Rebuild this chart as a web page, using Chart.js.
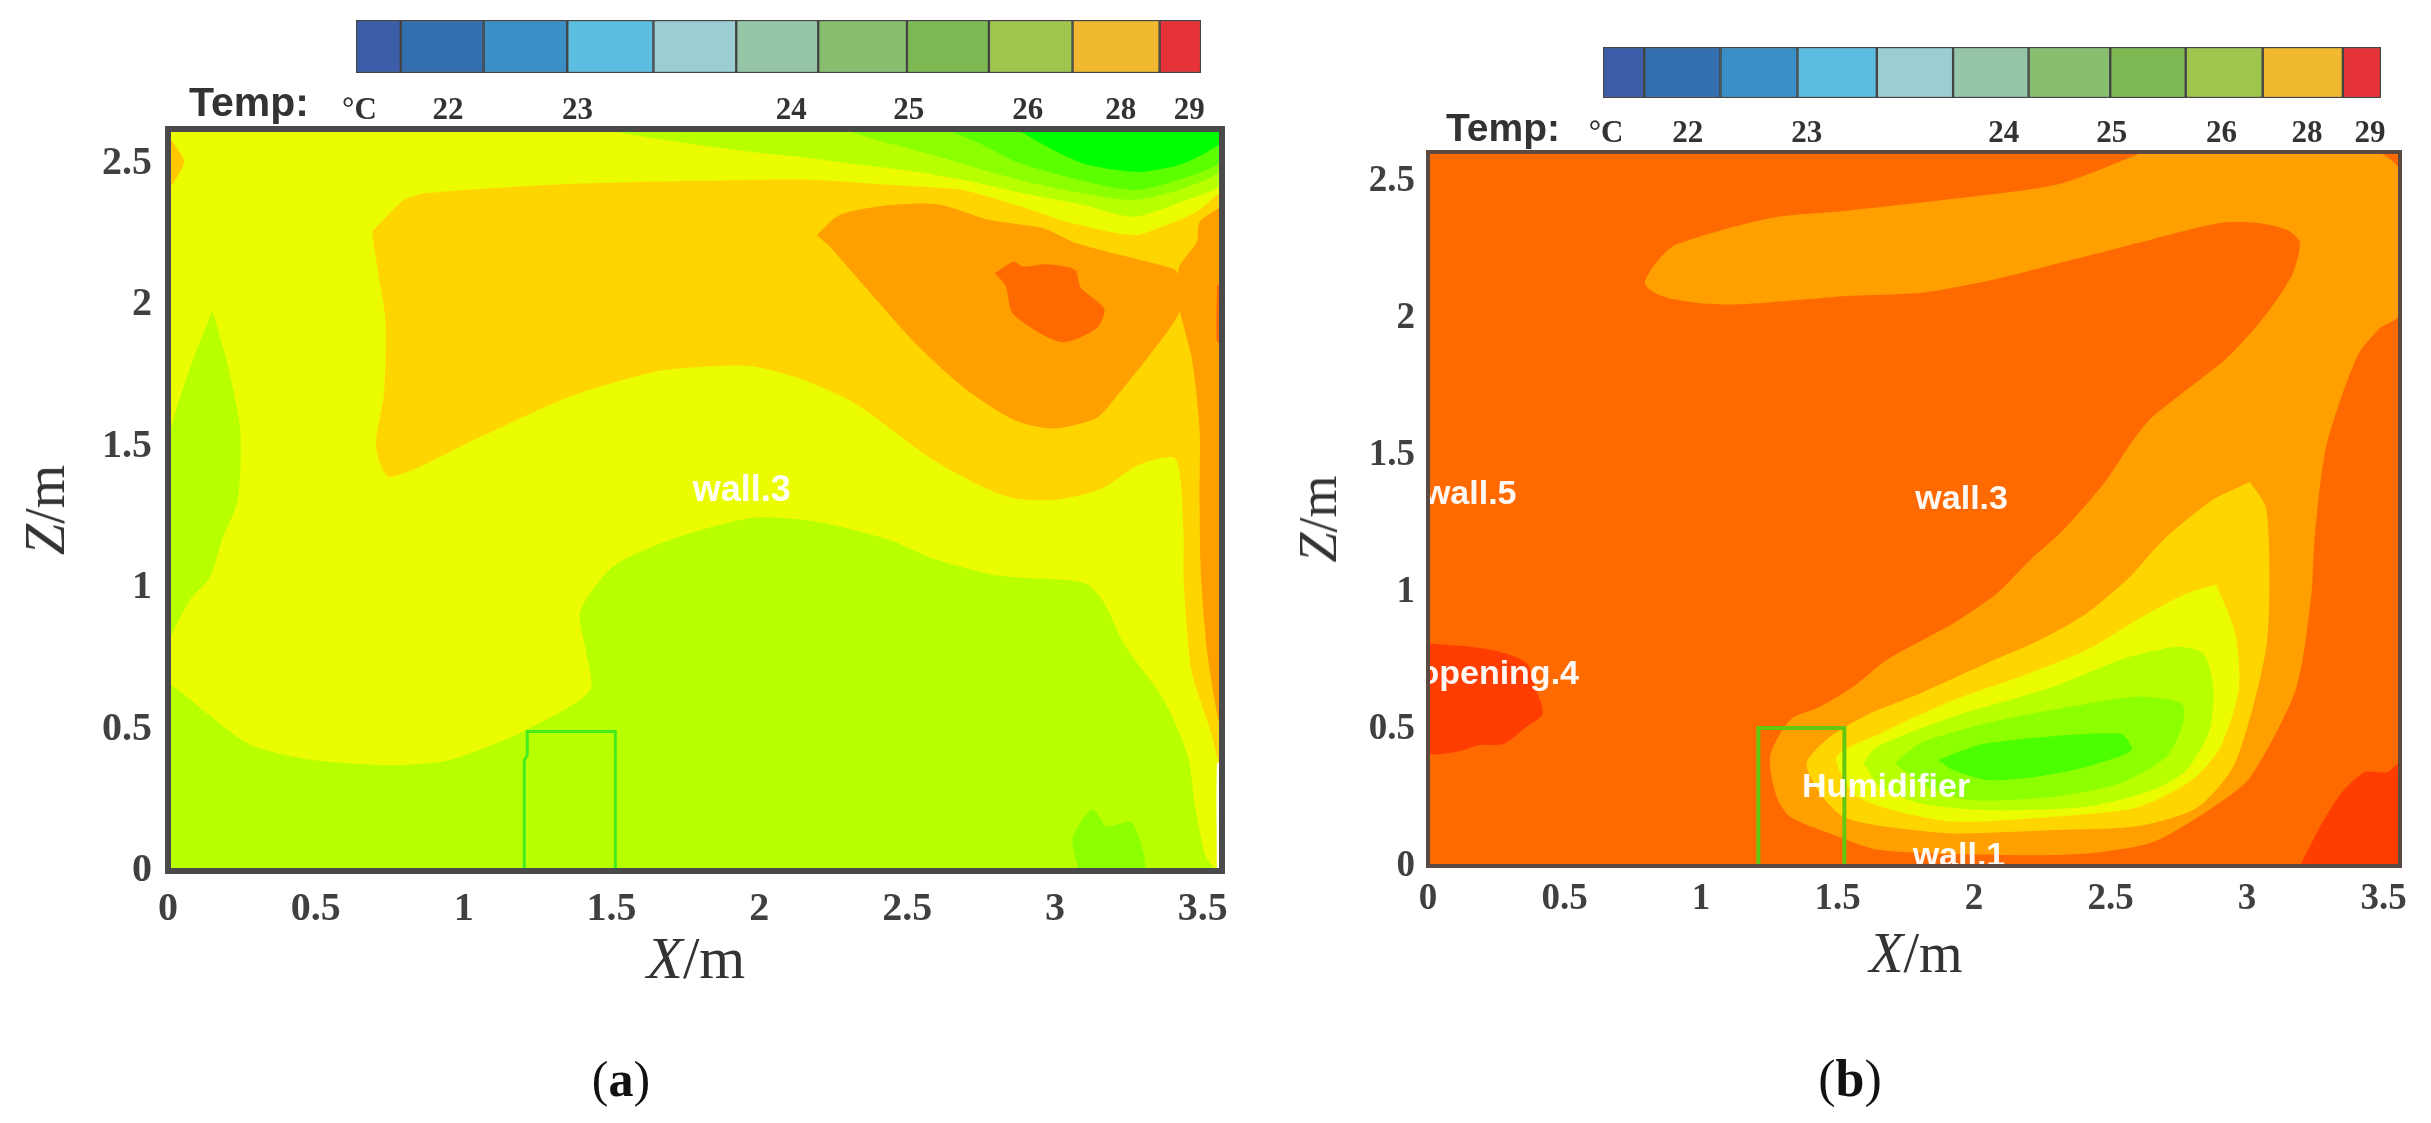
<!DOCTYPE html>
<html>
<head>
<meta charset="utf-8">
<title>Temperature contours</title>
<script src="https://cdn.jsdelivr.net/npm/chart.js@4"></script>
<style>
  body { margin: 0; background: #fff; width: 2431px; height: 1123px; overflow: hidden; position: relative; }
  canvas { position: absolute; filter: blur(0.6px); }
  .lbl { position: absolute; color: #333; font-family: "Liberation Serif", serif; white-space: nowrap; transform: translate(-50%, -50%); line-height: 1; }
  .temp { font-family: "Liberation Sans", sans-serif; font-weight: bold; color: #333; }
  .rot { transform: translate(-50%, -50%) rotate(-90deg); }
</style>
</head>
<body>
<canvas id="keyA" width="925" height="113" style="left:316px;top:20px"></canvas>
<canvas id="keyB" width="858" height="111" style="left:1563px;top:47px"></canvas>
<canvas id="plotA" width="1180" height="811" style="left:60px;top:120px"></canvas>
<canvas id="plotB" width="1100" height="800" style="left:1320px;top:126px"></canvas>

<div class="lbl temp" style="left:249px;top:102px;font-size:41px">Temp:</div>
<div class="lbl temp" style="left:1503px;top:127px;font-size:39px">Temp:</div>
<div class="lbl" style="left:696px;top:958px;font-size:59px"><i>X</i>/m</div>
<div class="lbl" style="left:1916px;top:953px;font-size:56px"><i>X</i>/m</div>
<div class="lbl rot" style="left:45px;top:510px;font-size:56px"><i>Z</i>/m</div>
<div class="lbl rot" style="left:1318px;top:519px;font-size:54px"><i>Z</i>/m</div>
<div class="lbl" style="left:621px;top:1079px;font-size:50px;color:#111">(<b>a</b>)</div>
<div class="lbl" style="left:1850px;top:1079px;font-size:52px;color:#111">(<b>b</b>)</div>

<script>
// colour key
const keySpans = [5.3, 9.8, 9.9, 10.2, 9.8, 9.7, 10.5, 9.7, 9.9, 10.3, 4.9];
const keyColors = ['#3C5DA8', '#336FAF', '#3A8FC6', '#5BBDE0', '#9BCDD2', '#96C6A8', '#87BF6E', '#7DB952', '#9FC54E', '#F0B92F', '#E43236'];
const keyTickPos = [0.4, 10.9, 26.2, 51.5, 65.4, 79.5, 90.5, 98.6];
const keyTickLabels = ['°C', '22', '23', '24', '25', '26', '28', '29'];

// contour bands, [x, z] in metres
const C_YELLOW = '#EBFB00', C_LIME = '#B8FF00', C_GREEN1 = '#8CFF00', C_GREEN2 = '#5CFF00', C_GREEN3 = '#00FF00', C_BRIGHT = '#4BFF00';
const C_AMBER = '#FFD500', C_ORANGE = '#FFA000', C_DEEP = '#FF6A00', C_RED = '#FF3D00';

// panel (a)
const aBase = [[0, 0], [0, 2.622], [3.565, 2.622], [3.565, 0]];
const aLime = [[0, 0], [0, .65], [.13, .558], [.276, .447], [.477, .394], [.744, .374], [.932, .387], [1.066, .433], [1.213, .499], [1.427, .637], [1.414, .775], [1.395, .919], [1.507, 1.077], [1.695, 1.169], [1.976, 1.248], [2.19, 1.235], [2.444, 1.169], [2.59, 1.103], [2.806, 1.044], [3.10, 1.018], [3.167, .946], [3.234, .801], [3.368, .604], [3.449, .407], [3.475, .223], [3.51, .05], [3.54, 0]];
const aLimeStrip = [[.15, 1.98], [.088, 1.816], [.027, 1.627], [0, 1.5], [0, .8], [.008, .828], [.075, .959], [.142, 1.038], [.182, 1.169], [.236, 1.311], [.244, 1.564], [.195, 1.816]];
const aPatch = [[3.08, 0], [3.06, .118], [3.127, .217], [3.175, .158], [3.26, .171], [3.3, 0]];
const aAmber = [[.69, 2.258], [.798, 2.371], [.878, 2.396], [1.36, 2.428], [1.968, 2.442], [2.194, 2.442], [2.453, 2.424], [2.69, 2.406], [2.87, 2.353], [3.04, 2.294], [3.265, 2.247], [3.378, 2.283], [3.48, 2.33], [3.565, 2.39], [3.565, .35], [3.529, .486], [3.462, .709], [3.435, 1.038], [3.435, 1.185], [3.408, 1.456], [3.288, 1.437], [3.154, 1.349], [2.993, 1.311], [2.833, 1.324], [2.592, 1.45], [2.324, 1.652], [2.137, 1.74], [1.976, 1.784], [1.842, 1.784], [1.655, 1.766], [1.36, 1.677], [1.039, 1.526], [.75, 1.393], [.704, 1.5], [.731, 1.69], [.736, 1.942], [.712, 2.106]];
const aCorner = [[0, 2.6], [.054, 2.51], [.035, 2.46], [0, 2.415]];
const aOrange = [[2.194, 2.247], [2.272, 2.318], [2.442, 2.353], [2.605, 2.356], [2.78, 2.30], [2.96, 2.271], [3.073, 2.218], [3.378, 2.135], [3.412, 2.118], [3.422, 1.98], [3.315, 1.816], [3.208, 1.677], [3.14, 1.601], [2.993, 1.564], [2.859, 1.595], [2.699, 1.702], [2.538, 1.854], [2.352, 2.071], [2.244, 2.2]];
const aOrangeStrip = [[3.565, 2.35], [3.49, 2.294], [3.48, 2.224], [3.423, 2.141], [3.412, 2.07], [3.422, 1.98], [3.462, 1.816], [3.489, 1.564], [3.489, 1.311], [3.494, 1.038], [3.515, .775], [3.542, .591], [3.565, .49]];
const aDeep = [[2.797, 2.112], [2.859, 2.153], [2.893, 2.136], [2.972, 2.144], [3.068, 2.124], [3.087, 2.062], [3.167, 1.986], [3.14, 1.917], [3.02, 1.869], [2.859, 1.967], [2.833, 2.068]];
const aEdgeDeep = [[3.548, 2.07], [3.565, 2.07], [3.565, 1.87], [3.548, 1.87]];
const aEdgeWhite = [[3.548, 0], [3.565, 0], [3.565, .38], [3.548, .38]];
const aTopLime = [[1.45, 2.622], [1.7, 2.58], [1.968, 2.542], [2.137, 2.524], [2.306, 2.5], [2.532, 2.471], [2.70, 2.44], [2.87, 2.40], [3.096, 2.353], [3.265, 2.312], [3.412, 2.359], [3.565, 2.43], [3.565, 2.622]];
const aTopGreen1 = [[2.28, 2.622], [2.419, 2.577], [2.588, 2.53], [2.758, 2.477], [2.927, 2.43], [3.096, 2.394], [3.265, 2.371], [3.434, 2.412], [3.565, 2.48], [3.565, 2.622]];
const aTopGreen2 = [[2.63, 2.622], [2.758, 2.565], [2.87, 2.506], [3.04, 2.453], [3.265, 2.406], [3.434, 2.448], [3.565, 2.51], [3.565, 2.622]];
const aTopGreen3 = [[2.87, 2.622], [2.983, 2.554], [3.096, 2.5], [3.209, 2.477], [3.299, 2.471], [3.434, 2.5], [3.565, 2.575], [3.565, 2.622]];
const aBoxX = [1.205, 1.205, 1.215, 1.215, 1.513, 1.513];
const aBoxZ = [0, .39, .41, .493, .493, 0];

// panel (b)
const bBase = [[0, 0], [0, 2.606], [3.56, 2.606], [3.56, 0]];
const bOrange = [[2.622, 2.606], [2.316, 2.49], [2.01, 2.445], [1.537, 2.392], [1.259, 2.366], [.911, 2.269], [.842, 2.21], [.794, 2.125], [.856, 2.08], [.981, 2.056], [1.148, 2.05], [1.537, 2.08], [1.815, 2.093], [2.094, 2.145], [2.372, 2.216], [2.65, 2.287], [2.9, 2.347], [3.04, 2.347], [3.15, 2.32], [3.193, 2.275], [3.165, 2.158], [3.07, 2.014], [2.93, 1.858], [2.65, 1.636], [2.567, 1.532], [2.485, 1.409], [2.327, 1.226], [2.205, 1.117], [2.083, .995], [1.924, .886], [1.68, .752], [1.558, .655], [1.436, .581], [1.326, .533], [1.253, .399], [1.277, .253], [1.326, .18], [1.473, .119], [1.656, .058], [2.107, .04], [2.412, .046], [2.656, .088], [2.873, .213], [3.01, .322], [3.179, .647], [3.235, .986], [3.248, 1.206], [3.29, 1.532], [3.402, 1.858], [3.485, 1.962], [3.56, 2.014], [3.56, 2.536], [3.47, 2.606]];
const bAmber = [[3.01, 1.402], [2.873, 1.336], [2.693, 1.19], [2.571, 1.056], [2.412, .922], [2.241, .825], [2.046, .74], [1.802, .63], [1.619, .557], [1.473, .472], [1.387, .375], [1.436, .265], [1.521, .18], [1.68, .143], [1.924, .119], [2.29, .131], [2.595, .145], [2.817, .213], [2.956, .376], [3.068, .783], [3.082, 1.054], [3.068, 1.31]];
const bYellow = [[2.887, 1.027], [2.956, .851], [2.97, .647], [2.9, .43], [2.79, .308], [2.595, .213], [2.29, .18], [1.924, .162], [1.68, .21], [1.558, .265], [1.497, .399], [1.656, .484], [1.924, .606], [2.168, .691], [2.412, .788], [2.595, .898], [2.778, .995]];
const bLime = [[1.595, .375], [1.643, .435], [1.924, .545], [2.29, .654], [2.534, .752], [2.741, .8], [2.839, .776], [2.876, .654], [2.863, .496], [2.778, .35], [2.656, .277], [2.412, .216], [2.046, .204], [1.802, .228], [1.656, .29]];
const bGreen = [[1.71, .375], [1.802, .448], [2.046, .521], [2.351, .581], [2.595, .618], [2.76, .594], [2.766, .521], [2.705, .399], [2.534, .302], [2.29, .253], [1.985, .241], [1.826, .29]];
const bBright = [[1.869, .387], [2.046, .448], [2.534, .484], [2.577, .423], [2.412, .362], [2.229, .326], [2.046, .314], [1.924, .35]];
const bRedLeft = [[0, .813], [.154, .80], [.264, .782], [.362, .74], [.392, .654], [.42, .557], [.362, .509], [.276, .445], [.19, .442], [.105, .417], [0, .417]];
const bRedRight = [[3.193, 0], [3.276, .159], [3.346, .267], [3.43, .342], [3.513, .342], [3.56, .376], [3.56, 0]];
const bBoxX = [1.21, 1.21, 1.525, 1.525];
const bBoxZ = [0, .504, .504, 0];

// labels inside the plots, x is the left end of the text
const aNoteText = ['wall.3'], aNoteX = [1.775], aNoteZ = [1.343];
const bNoteText = ['wall.3', 'wall.5', 'opening.4', 'Humidifier', 'wall.1'];
const bNoteX = [1.785, -.015, -.035, 1.37, 1.775];
const bNoteZ = [1.336, 1.356, .697, .285, .033];

const shape = (pts, color, tension) => ({
    data: pts.concat([pts[0]]).map(p => ({ x: p[0], y: p[1] })),
    showLine: true, fill: 'shape', backgroundColor: color, borderColor: color,
    borderWidth: 0, pointRadius: 0, tension
});

// first dataset is painted last, so flip the paint order
const makePlot = (id, layers, box, maxX, maxZ, notes, padding, frame, ticks) => {
    const boxSet = {
        data: box.x.map((v, i) => ({ x: v, y: box.z[i] })),
        showLine: true, fill: false, borderColor: box.color, borderWidth: box.width, pointRadius: 0
    };
    const overlay = {
        id: 'overlay',
        afterDatasetsDraw(chart) {
            const { ctx, chartArea: a, scales } = chart;
            ctx.save();
            ctx.beginPath();
            ctx.rect(a.left, a.top, a.width, a.height);
            ctx.clip();
            ctx.fillStyle = 'rgba(255,255,255,0.96)';
            ctx.textBaseline = 'middle';
            ctx.font = 'bold ' + notes.size + 'px "Liberation Sans"';
            notes.text.forEach((t, i) => {
                ctx.fillText(t, scales.x.getPixelForValue(notes.x[i]), scales.y.getPixelForValue(notes.z[i]));
            });
            ctx.restore();
            ctx.save();
            ctx.strokeStyle = frame.color;
            ctx.lineWidth = frame.width;
            ctx.strokeRect(a.left, a.top, a.width, a.height);
            ctx.restore();
        }
    };
    const tickFont = { family: '"Liberation Serif"', size: ticks.size, weight: 'bold' };
    return new Chart(document.getElementById(id), {
        type: 'scatter',
        data: { datasets: [boxSet].concat(layers.map((l, i) => shape(l[0], l[1], i ? .25 : 0)).reverse()) },
        plugins: [overlay],
        options: {
            responsive: false,
            animation: false,
            layout: { padding },
            plugins: { legend: { display: false }, tooltip: { enabled: false } },
            scales: {
                x: {
                    type: 'linear', min: 0, max: maxX,
                    grid: { display: false }, border: { display: false },
                    afterFit: s => { s.height = 60; s.paddingLeft = 0; s.paddingRight = 0; },
                    ticks: { stepSize: .5, includeBounds: false, autoSkip: false, maxRotation: 0, padding: ticks.xPad, color: '#404040', font: tickFont, callback: v => String(v) }
                },
                y: {
                    type: 'linear', min: 0, max: maxZ,
                    grid: { display: false }, border: { display: false },
                    afterFit: s => { s.width = 108; s.paddingTop = 0; s.paddingBottom = 0; },
                    ticks: { stepSize: .5, includeBounds: false, autoSkip: false, padding: ticks.yPad, color: '#404040', font: tickFont, callback: v => String(v) }
                }
            }
        }
    });
};

const makeKey = (id, pad, axisH) => new Chart(document.getElementById(id), {
    type: 'bar',
    data: {
        labels: ['key'],
        datasets: keySpans.map((v, i) => ({
            data: [v], backgroundColor: keyColors[i], borderColor: '#444', borderWidth: 1.5,
            borderSkipped: false, barPercentage: 1, categoryPercentage: 1
        }))
    },
    options: {
        indexAxis: 'y',
        responsive: false,
        animation: false,
        layout: { padding: { left: 40, right: 40 } },
        plugins: { legend: { display: false }, tooltip: { enabled: false } },
        scales: {
            x: {
                type: 'linear', min: 0, max: 100, stacked: true,
                grid: { display: false }, border: { display: false },
                afterBuildTicks: s => { s.ticks = keyTickPos.map(v => ({ value: v })); },
                afterFit: s => { s.height = axisH; s.paddingLeft = 0; s.paddingRight = 0; },
                ticks: {
                    autoSkip: false, maxRotation: 0, padding: pad, color: '#333',
                    font: { family: '"Liberation Serif"', size: 31, weight: 'bold' },
                    callback: v => keyTickLabels[keyTickPos.indexOf(v)]
                }
            },
            y: { stacked: true, display: false }
        }
    }
});

makeKey('keyA', 11, 60);
makeKey('keyB', 9, 60);

makePlot('plotA', [
    [aBase, C_YELLOW], [aLime, C_LIME], [aLimeStrip, C_LIME], [aPatch, C_GREEN1], [aAmber, C_AMBER], [aCorner, '#FFC800'],
    [aOrange, C_ORANGE], [aOrangeStrip, C_ORANGE], [aDeep, C_DEEP], [aEdgeDeep, C_DEEP], [aEdgeWhite, '#FFFFFF'],
    [aTopLime, C_LIME], [aTopGreen1, C_GREEN1], [aTopGreen2, C_GREEN2], [aTopGreen3, C_GREEN3]
], { x: aBoxX, z: aBoxZ, color: '#45EC1E', width: 3 }, 3.565, 2.622,
    { text: aNoteText, x: aNoteX, z: aNoteZ, size: 36 }, { top: 9, right: 18 }, { color: '#4A4A4A', width: 6 }, { size: 40, xPad: 7, yPad: 8 });

makePlot('plotB', [
    [bBase, C_DEEP], [bOrange, C_ORANGE], [bAmber, C_AMBER], [bYellow, C_YELLOW], [bLime, C_LIME], [bGreen, C_GREEN1], [bBright, C_BRIGHT],
    [bRedLeft, C_RED], [bRedRight, C_RED]
], { x: bBoxX, z: bBoxZ, color: '#63C80F', width: 4 }, 3.56, 2.606,
    { text: bNoteText, x: bNoteX, z: bNoteZ, size: 34 }, { top: 26, right: 20 }, { color: '#5A4A42', width: 4 }, { size: 37, xPad: 3, yPad: 5 });
</script>
</body>
</html>
